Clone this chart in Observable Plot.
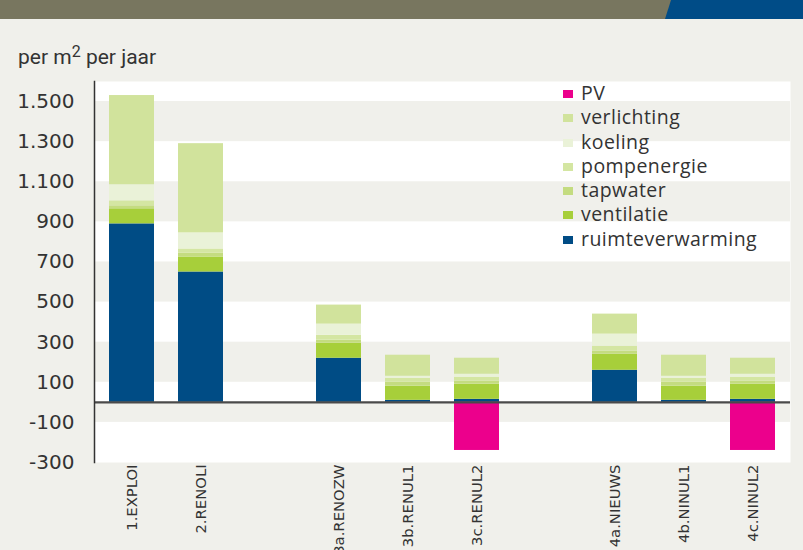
<!DOCTYPE html>
<html>
<head>
<meta charset="utf-8">
<script src="https://cdn.jsdelivr.net/npm/d3@7"></script>
<script src="https://cdn.jsdelivr.net/npm/@observablehq/plot@0.6"></script>
<style>
  html, body { margin: 0; padding: 0; background: #f0f0eb; }
  #wrap { position: relative; width: 803px; height: 550px; overflow: hidden; background: #f0f0eb; }
  #hdr { position: absolute; left: 0; top: 0; width: 803px; height: 19px; background: #78765f; }
  #hdrblue { position: absolute; left: 665px; top: 0; width: 138px; height: 19px; background: #004c87;
             clip-path: polygon(6px 0, 100% 0, 100% 100%, 0 100%); }
  #unit { position: absolute; left: 18px; top: 45px; font-family: "Roboto", sans-serif;
          font-size: 21px; color: #333; white-space: nowrap; }
  #unit sup { font-size: 16px; vertical-align: 7px; line-height: 0; }
  #chart { position: absolute; left: 0; top: 0; }
  #legend { position: absolute; left: 563px; top: 81px; font-family: "Open Sans", sans-serif; font-size: 19.5px;
            color: #333; letter-spacing: 0.45px; }
  .lg { position: relative; height: 24.3px; line-height: 24.3px; padding-left: 18px; white-space: nowrap; }
  .sw { position: absolute; left: 0; top: 9px; width: 10px; height: 8px; }
</style>
</head>
<body>
<div id="wrap">
  <div id="chart"></div>
  <div id="hdr"></div>
  <div id="hdrblue"></div>
  <div id="unit">per m<sup>2</sup> per jaar</div>
  <div id="legend"></div>
</div>
<script>
// ---- data ----
const categories = ["1.EXPLOI", "2.RENOLI", "3a.RENOZW", "3b.RENUL1", "3c.RENUL2", "4a.NIEUWS", "4b.NINUL1", "4c.NINUL2"];
const ruimteverwarming = [890, 650, 220, 10, 15, 160, 10, 15];
const ventilatie       = [75, 75, 75, 70, 75, 80, 70, 75];
const tapwater         = [15, 20, 15, 20, 15, 15, 20, 15];
const pompenergie      = [25, 20, 25, 20, 20, 25, 20, 20];
const koeling          = [80, 80, 55, 10, 15, 60, 10, 15];
const verlichting      = [445, 445, 95, 105, 80, 100, 105, 80];
const PV               = [0, 0, 0, 0, -240, 0, 0, -240];
const yTicks = [1500, 1300, 1100, 900, 700, 500, 300, 100, -100, -300];
const grayBands = [[1500, 1300], [1100, 900], [700, 500], [300, 100], [0, -100]];

const seriesNames = ["ruimteverwarming", "ventilatie", "tapwater", "pompenergie", "koeling", "verlichting", "PV"];
const seriesValues = [ruimteverwarming, ventilatie, tapwater, pompenergie, koeling, verlichting, PV];
const seriesColors = ["#004c85", "#a7cf3a", "#c4dc80", "#d4e6a2", "#eaf2d8", "#d1e39c", "#ec008c"];
const legendOrder = ["PV", "verlichting", "koeling", "pompenergie", "tapwater", "ventilatie", "ruimteverwarming"];

// x domain with two empty slots separating the groups
const xDomain = [categories[0], categories[1], " ", categories[2], categories[3], categories[4], "  ", categories[5], categories[6], categories[7]];

const rows = [];
seriesNames.forEach((s, si) => {
  categories.forEach((c, ci) => {
    rows.push({cat: c, series: s, value: seriesValues[si][ci]});
  });
});

const nl = d3.formatLocale({decimal: ",", thousands: ".", grouping: [3], currency: ["€", ""], minus: "-"});
const fmt = nl.format(",");

const chart = Plot.plot({
  width: 803,
  height: 550,
  marginTop: 81,
  marginBottom: 88,
  marginLeft: 94,
  marginRight: 13,
  style: {background: "transparent", color: "#333", fontFamily: "DejaVu Sans, sans-serif"},
  x: {type: "band", domain: xDomain, paddingInner: 0.353, paddingOuter: 0.178, label: null},
  y: {domain: [-300, 1600], label: null},
  color: {domain: seriesNames, range: seriesColors},
  marks: [
    Plot.frame({fill: "white", stroke: null}),
    Plot.rectY(grayBands, {y1: d => d[0], y2: d => d[1], fill: "#f0f0eb"}),
    Plot.barY(rows, {x: "cat", y: "value", fill: "series", order: seriesNames}),
    Plot.ruleY([0], {stroke: "#4a4a4a", strokeWidth: 2.2}),
    Plot.frame({anchor: "left", stroke: "#333", strokeWidth: 1.5}),
    Plot.axisY({ticks: yTicks, tickFormat: fmt, tickSize: 0, tickPadding: 20, fontSize: 20, label: null, fill: "#333"}),
    Plot.axisX({ticks: categories, tickSize: 0, tickPadding: 2, tickRotate: -90, fontSize: 14.8, label: null, fill: "#333"})
  ]
});
document.getElementById("chart").appendChild(chart);

// legend
const lg = document.getElementById("legend");
legendOrder.forEach(name => {
  const row = document.createElement("div");
  row.className = "lg";
  const sw = document.createElement("span");
  sw.className = "sw";
  sw.style.background = seriesColors[seriesNames.indexOf(name)];
  row.appendChild(sw);
  row.appendChild(document.createTextNode(name));
  lg.appendChild(row);
});
</script>
</body>
</html>
